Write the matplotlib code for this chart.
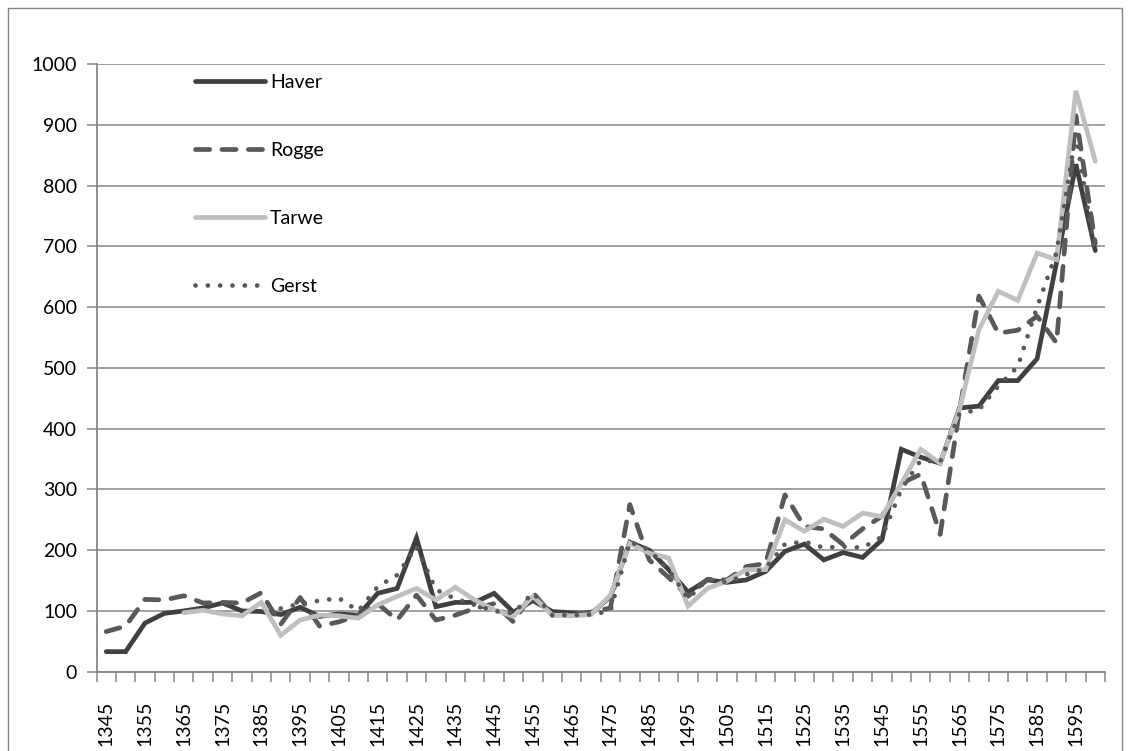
import numpy as np
import matplotlib
matplotlib.use("Agg")
import matplotlib.pyplot as plt
from matplotlib.patches import Rectangle

plt.rcParams['font.family'] = ['Lato', 'DejaVu Sans']

years = list(range(1345, 1601, 5))
nan = np.nan

haver = [33, 33, 80, 96, 100, 105, 113, 100, 99, 94,
         106, 91, 95, 93, 129, 137, 220, 107, 114, 114,
         129, 98, 117, 99, 97, 95, 124, 213, 200, 168,
         131, 151, 147, 151, 165, 198, 210, 184, 196, 188,
         217, 366, 353, 343, 434, 437, 479, 479, 515, 673,
         835, 693]
rogge = [66, 75, 119, 118, 125, 113, 114, 113, 130, 78,
         122, 75, 82, 93, 112, 85, 126, 85, 93, 104,
         112, 82, 130, 93, 95, 98, 105, 275, 184, 155,
         124, 152, 151, 173, 178, 291, 239, 235, 209, 235,
         256, 310, 325, 226, 430, 618, 557, 562, 585, 541,
         915, 705]
tarwe = [nan, nan, nan, nan, 97, 101, 95, 92, 114, 60,
         85, 93, 92, 88, 110, 124, 137, 118, 139, 118,
         102, 91, 124, 93, 92, 94, 126, 211, 195, 187,
         108, 137, 149, 168, 168, 250, 231, 251, 239, 261,
         255, 310, 366, 343, 432, 563, 626, 611, 689, 678,
         956, 840]
gerst = [nan, nan, nan, nan, nan, nan, nan, nan, nan, 104,
         112, 117, 121, 100, 140, 159, 206, 135, 120, 110,
         100, 96, 130, 93, 93, 94, 100, 214, 200, 168,
         120, 152, 147, 160, 170, 210, 214, 204, 206, 204,
         222, 300, 348, 345, 425, 431, 470, 502, 600, 690,
         885, 684]

series_names = ['Haver', 'Rogge', 'Tarwe', 'Gerst']
yticks = list(range(0, 1001, 100))

W, H = 1130, 751
fig = plt.figure(figsize=(W / 100, H / 100), dpi=100)
left, right, bottom, top = 96.5, 1105, 671.7, 64
ax = fig.add_axes([left / W, 1 - bottom / H, (right - left) / W, (bottom - top) / H])

x = np.arange(len(years))
lw = 3.4
ax.plot(x, haver, color='#404040', lw=lw, solid_capstyle='round', solid_joinstyle='miter', label=series_names[0], zorder=3)
ax.plot(x, rogge, color='#595959', lw=lw, dashes=(3.0, 2.6), dash_capstyle='round', label=series_names[1], zorder=4)
ax.plot(x, tarwe, color='#BFBFBF', lw=lw, solid_capstyle='round', solid_joinstyle='miter', label=series_names[2], zorder=5)
ax.plot(x, gerst, color='#595959', lw=lw, dashes=(0.01, 2.6), dash_capstyle='round', label=series_names[3], zorder=6)

fs = 14
ax.set_xlim(-0.5, len(years) - 0.5)
ax.set_ylim(0, 1000)
ax.set_yticks(yticks)
ax.set_yticklabels([str(v) for v in yticks], fontsize=fs)
ax.grid(axis='y', color='#868686', lw=1.1)
ax.set_axisbelow(True)

ax.set_xticks(np.arange(-0.5, len(years), 1.0))
ax.set_xticklabels([])
ax.set_xticks(x[::2], minor=True)
ax.set_xticklabels([str(y) for y in years[::2]], minor=True, rotation=90, fontsize=fs)
ax.tick_params(axis='x', which='major', direction='out', length=7, width=1.1, color='#868686')
ax.tick_params(axis='x', which='minor', length=0, pad=21)
ax.tick_params(axis='y', direction='out', length=7, width=1.1, color='#868686', pad=7)

for s in ['top', 'right']:
    ax.spines[s].set_visible(False)
for s in ['left', 'bottom']:
    ax.spines[s].set_color('#868686')
    ax.spines[s].set_linewidth(1.3)

leg = ax.legend(loc='upper left', bbox_to_anchor=(195 / W, 1 - 74 / H),
                bbox_transform=fig.transFigure, frameon=False, fontsize=fs,
                handlelength=3.6, handletextpad=0.26, labelspacing=2.62,
                borderpad=0, borderaxespad=0)

fig.patches.append(Rectangle((8 / W, -0.1), (1122 - 8) / W, 1.1 - 8 / H,
                             transform=fig.transFigure, fill=False,
                             edgecolor='#868686', lw=1.0))

fig.savefig('out.png', dpi=100)
